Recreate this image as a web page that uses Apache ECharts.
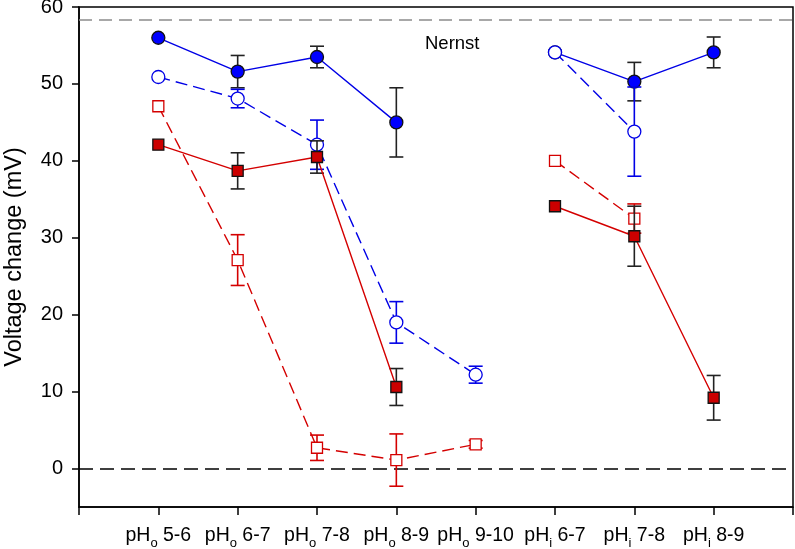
<!DOCTYPE html>
<html>
<head>
<meta charset="utf-8">
<script src="https://cdn.jsdelivr.net/npm/echarts@6/dist/echarts.min.js"></script>
<style>html,body{margin:0;padding:0;background:#fff;}#c{width:795px;height:549px;}</style>
</head>
<body>
<div id="c"></div>
<script>
// ---- data ----
const xLabels = ['5-6', '6-7', '7-8', '8-9', '9-10', '6-7', '7-8', '8-9'];
const xSubs = ['o', 'o', 'o', 'o', 'o', 'i', 'i', 'i'];
const xGroups = [[0, 1, 2, 3, 4], [5, 6, 7]];
const blueFilled = [56.0, 51.6, 53.5, 45.0, null, 54.1, 50.3, 54.1];
const blueFilledErr = [0, 2.1, 1.4, 4.5, null, 0, 2.5, 2.0];
const blueOpen = [50.9, 48.1, 42.1, 19.0, 12.2, 54.1, 43.8, null];
const blueOpenErr = [0, 1.2, 3.2, 2.7, 1.1, 0, 5.8, null];
const redOpen = [47.1, 27.1, 2.7, 1.1, 3.15, 40.0, 32.5, null];
const redOpenErr = [0, 3.3, 1.65, 3.4, 0.5, 0, 1.9, null];
const redFilled = [42.1, 38.7, 40.5, 10.6, null, 34.1, 30.2, 9.2];
const redFilledErr = [0, 2.35, 2.1, 2.4, null, 0, 3.9, 2.9];
const yTicks = [0, 10, 20, 30, 40, 50, 60];
const xTicks = [1, 2, 3, 4, 5, 6, 7, 8];
const nernstValue = 58.3;

const BLUE = '#0000E6', RED = '#D40000';

const conds = [
  {vals: blueFilled, errs: blueFilledErr, line: BLUE, dash: 'solid', sym: 'circle', size: 13, fill: '#0000FF', border: '#111', errColor: '#222', z: 3},
  {vals: blueOpen, errs: blueOpenErr, line: BLUE, dash: [12, 6], sym: 'circle', size: 13, fill: '#fff', border: BLUE, errColor: BLUE, z: 5},
  {vals: redOpen, errs: redOpenErr, line: RED, dash: [12, 6], sym: 'rect', size: 11, fill: '#fff', border: RED, errColor: RED, z: 7},
  {vals: redFilled, errs: redFilledErr, line: RED, dash: 'solid', sym: 'rect', size: 11, fill: '#CC0000', border: '#111', errColor: '#222', z: 9}
];

function errRender(color) {
  return function (params, api) {
    const x = api.value(0), y = api.value(1), e = api.value(2);
    const t = api.coord([x, y + e]), b = api.coord([x, y - e]);
    const hw = 7;
    const st = {stroke: color, lineWidth: 1.6};
    return {type: 'group', children: [
      {type: 'line', shape: {x1: t[0], y1: t[1], x2: b[0], y2: b[1]}, style: st},
      {type: 'line', shape: {x1: t[0] - hw, y1: t[1], x2: t[0] + hw, y2: t[1]}, style: st},
      {type: 'line', shape: {x1: b[0] - hw, y1: b[1], x2: b[0] + hw, y2: b[1]}, style: st}
    ]};
  };
}

const series = [];
// reference lines
series.push({
  type: 'line', data: [], z: 1, silent: true,
  markLine: {
    symbol: 'none', silent: true, label: {show: false},
    data: [
      {yAxis: 0, lineStyle: {color: '#000', type: [14, 7], width: 1.5}},
      {yAxis: nernstValue, lineStyle: {color: '#8c8c8c', type: [13, 7], width: 1.5}}
    ]
  }
});
conds.forEach(c => {
  const ed = [];
  c.vals.forEach((v, i) => { if (v != null && c.errs[i]) ed.push([i + 1, v, c.errs[i]]); });
  series.push({type: 'custom', renderItem: errRender(c.errColor), data: ed, z: c.z, encode: {x: 0, y: 1}, silent: true});
  xGroups.forEach(g => {
    const d = [];
    g.forEach(i => { if (c.vals[i] != null) d.push([i + 1, c.vals[i]]); });
    series.push({
      type: 'line', data: d, z: c.z + 1, silent: true,
      symbol: c.sym, symbolSize: c.size, showAllSymbol: true,
      lineStyle: {color: c.line, width: 1.4, type: c.dash},
      itemStyle: {color: c.fill, borderColor: c.border, borderWidth: 1.3},
      emphasis: {disabled: true}
    });
  });
});

const chart = echarts.init(document.getElementById('c'), null, {renderer: 'canvas'});
chart.setOption({
  animation: false,
  backgroundColor: '#fff',
  grid: {left: 79, right: 2, top: 7, bottom: 42, containLabel: false, outerBoundsMode: 'none',
         show: true, borderColor: '#000', borderWidth: 1.5, backgroundColor: 'transparent'},
  xAxis: {
    type: 'value', min: 0, max: 9, interval: 1,
    splitLine: {show: false},
    axisLine: {onZero: false, lineStyle: {color: '#000', width: 1.5}},
    axisTick: {show: true, inside: false, length: 8, lineStyle: {color: '#000', width: 1.5}},
    axisLabel: {
      customValues: xTicks, margin: 15, showMinLabel: true, showMaxLabel: true,
      fontFamily: 'Liberation Sans', fontSize: 19.5, color: '#000',
      formatter: v => 'pH{s|' + xSubs[v - 1] + '} ' + xLabels[v - 1],
      rich: {s: {fontSize: 13, fontFamily: 'Liberation Sans', color: '#000', padding: [15, 0, 0, 0]}}
    }
  },
  yAxis: {
    type: 'value', min: -5, max: 60,
    name: 'Voltage change (mV)', nameLocation: 'middle', nameGap: 52,
    nameTextStyle: {fontFamily: 'Liberation Sans', fontSize: 23.5, color: '#000'},
    splitLine: {show: false},
    axisLine: {onZero: false, lineStyle: {color: '#000', width: 1.5}},
    axisTick: {show: true, inside: false, length: 7, lineStyle: {color: '#000', width: 1.5}, customValues: yTicks},
    axisLabel: {customValues: yTicks, margin: 16, fontFamily: 'Liberation Sans', fontSize: 20, color: '#000'}
  },
  graphic: [{type: 'text', left: 425, top: 34, style: {text: 'Nernst', fontFamily: 'Liberation Sans', fontSize: 18.5, fill: '#000'}}],
  series: series
});
</script>
</body>
</html>
